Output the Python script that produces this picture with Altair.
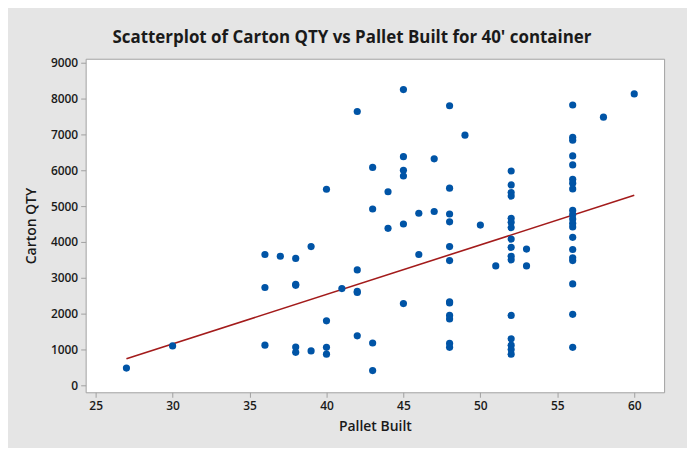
import altair as alt
import pandas as pd

pallets = (
    [27] + [30] + [36] * 3 + [37] + [38] * 5 + [39] * 2 + [40] * 4 + [41]
    + [42] * 5 + [43] * 4 + [44] * 2 + [45] * 6 + [46] * 2 + [47] * 2
    + [48] * 12 + [49] + [50] + [51] + [52] * 16 + [53] * 2 + [56] * 20
    + [58] + [60]
)
cartons = (
    [480]
    + [1100]
    + [3650, 2730, 1120]
    + [3600]
    + [3540, 2820, 2790, 1070, 920]
    + [3870, 960]
    + [5470, 1800, 1060, 870]
    + [2700]
    + [7640, 3220, 2620, 2590, 1380]
    + [6080, 4920, 1180, 410]
    + [5400, 4380]
    + [8250, 6380, 6000, 5840, 4500, 2280]
    + [4800, 3650]
    + [6320, 4850]
    + [7800, 5500, 4780, 4560, 3870, 3480, 2330, 2300, 1950, 1850, 1170, 1060]
    + [6980]
    + [4470]
    + [3330]
    + [5980, 5590, 5380, 5280, 4660, 4550, 4400, 4080, 3850, 3600, 3500,
       1950, 1300, 1120, 1000, 870]
    + [3800, 3330]
    + [7820, 6920, 6840, 6400, 6150, 5750, 5640, 5480, 4880, 4760, 4640,
       4520, 4420, 4130, 3790, 3560, 3480, 2830, 1980, 1060]
    + [7480]
    + [8130]
)
# fitted line (end points)
fit_pallets = [27, 60]
fit_cartons = [740, 5300]

x_ticks = [25, 30, 35, 40, 45, 50, 55, 60]
y_ticks = [0, 1000, 2000, 3000, 4000, 5000, 6000, 7000, 8000, 9000]

df = pd.DataFrame({"Pallet Built": pallets, "Carton QTY": cartons})
fit_df = pd.DataFrame({"Pallet Built": fit_pallets, "Carton QTY": fit_cartons})

FONT = "Open Sans"

xs = alt.X(
    "Pallet Built:Q",
    scale=alt.Scale(domain=[24.35, 61.94], nice=False, zero=False),
    axis=alt.Axis(values=x_ticks, title="Pallet Built", grid=False,
                  labelFlush=False, titlePadding=8, format="d"),
)
ys = alt.Y(
    "Carton QTY:Q",
    scale=alt.Scale(domain=[-194, 9111], nice=False, zero=False),
    axis=alt.Axis(values=y_ticks, title="Carton QTY", grid=False,
                  labelFlush=False, titlePadding=12, format="d",
                  labelOverlap=False),
)

line = alt.Chart(fit_df).mark_line(color="#a31b1b", strokeWidth=1.6).encode(
    x=xs, y=ys
)
points = alt.Chart(df).mark_circle(size=52, opacity=1, color="#0054a6").encode(
    x=xs, y=ys
)

chart = (
    alt.layer(line, points)
    .properties(
        width=581,
        height=335,
        background="#e5e5e5",
        autosize=alt.AutoSizeParams(type="none"),
        padding={"left": 78, "top": 50, "right": 23, "bottom": 55},
        title=alt.TitleParams(
            "Scatterplot of Carton QTY vs Pallet Built for 40' container",
            font=FONT, fontSize=17, fontWeight="bold", color="#1a1a1a",
            anchor="middle", frame="group", dx=-23, offset=13, dy=16,
            baseline="alphabetic",
        ),
    )
    .configure_view(fill="white", stroke="#a0a0a0", strokeWidth=1)
    .configure_axis(
        domain=False,
        tickColor="#a0a0a0",
        tickSize=5,
        labelFont=FONT,
        labelFontSize=12,
        labelFontWeight=600,
        labelColor="#1a1a1a",
        titleFont=FONT,
        titleFontSize=14,
        titleFontWeight=600,
        titleColor="#1a1a1a",
        labelPadding=3,
    )
)

chart.save("out.html", embed_options={"renderer": "svg", "actions": False})
